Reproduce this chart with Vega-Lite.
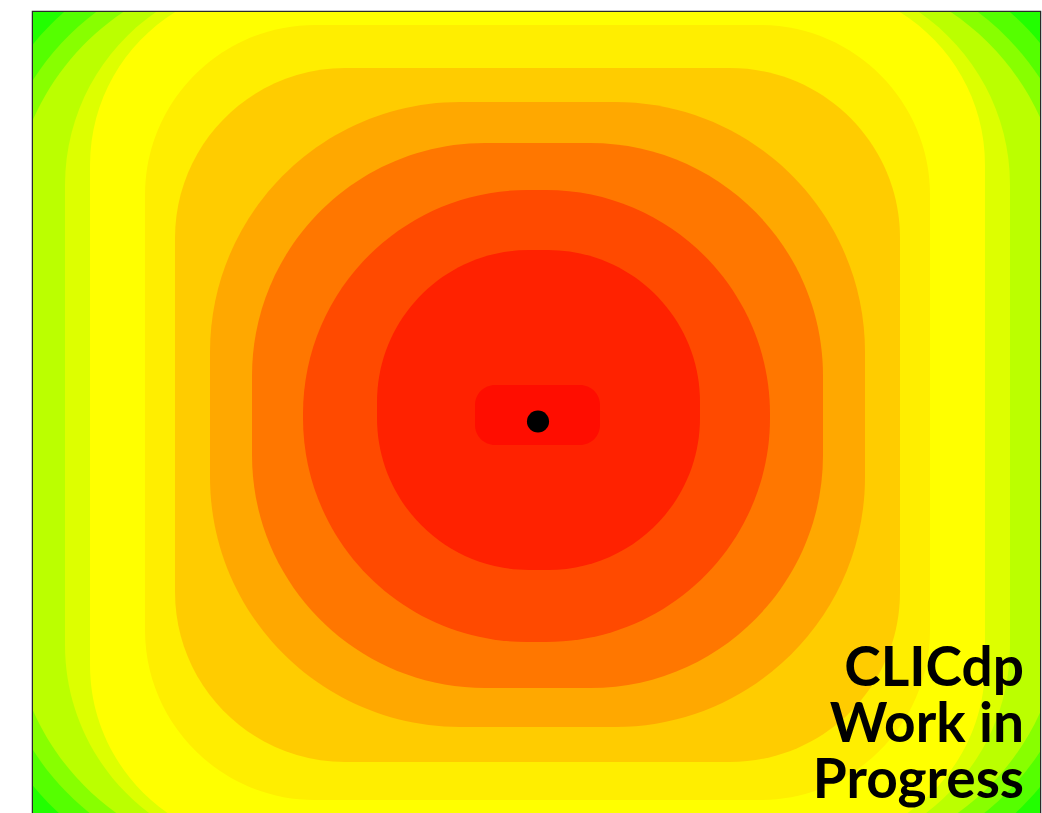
{
  "$schema": "https://vega.github.io/schema/vega-lite/v6.json",
  "autosize": {"type": "none"},
  "padding": {"left": 33, "top": 12, "right": 2, "bottom": 0},
  "width": 1007,
  "height": 806,
  "background": "white",
  "config": {"view": {"stroke": "#2a2a2a", "strokeWidth": 2.5}},
  "datasets": {
    "bands": [
      {"level": 0, "x1": -504, "x2": 503, "y1": -403, "y2": 403},
      {"level": 1, "x1": -565, "x2": 565, "y1": -470, "y2": 470},
      {"level": 2, "x1": -545, "x2": 545, "y1": -455, "y2": 455},
      {"level": 3, "x1": -525, "x2": 525, "y1": -445, "y2": 445},
      {"level": 4, "x1": -472, "x2": 473, "y1": -440, "y2": 440},
      {"level": 5, "x1": -447, "x2": 448, "y1": -430, "y2": 430},
      {"level": 6, "x1": -392, "x2": 393, "y1": -385, "y2": 390},
      {"level": 7, "x1": -362, "x2": 363, "y1": -347, "y2": 347},
      {"level": 8, "x1": -327, "x2": 328, "y1": -312, "y2": 313},
      {"level": 9, "x1": -285, "x2": 286, "y1": -273, "y2": 272},
      {"level": 10, "x1": -234, "x2": 233, "y1": -227, "y2": 225},
      {"level": 11, "x1": -160, "x2": 163, "y1": -155, "y2": 165},
      {"level": 12, "x1": -62, "x2": 63, "y1": -30, "y2": 30}
    ],
    "marker": [{"x": 1, "y": -6.5}]
  },
  "layer": [
    {
      "data": {"name": "bands"},
      "encoding": {
        "x": {"field": "x1", "type": "quantitative", "axis": null, "scale": {"domain": [-504, 503], "nice": false, "zero": false}},
        "x2": {"field": "x2"},
        "y": {"field": "y1", "type": "quantitative", "axis": null, "scale": {"domain": [-403, 403], "nice": false, "zero": false}},
        "y2": {"field": "y2"},
        "fill": {
          "field": "level", "type": "ordinal", "legend": null,
          "scale": {
            "domain": [0, 1, 2, 3, 4, 5, 6, 7, 8, 9, 10, 11, 12],
            "range": ["#22ff00", "#55ff00", "#88ff00", "#bbff00", "#ddff00", "#ffff00", "#ffee00", "#ffcc00", "#ffa800", "#ff7700", "#ff4a00", "#ff2200", "#ff0d00"]
          }
        }
      },
      "layer": [
        {"transform": [{"filter": "datum.level == 0"}], "mark": {"type": "rect", "clip": true}},
        {"transform": [{"filter": "datum.level == 1"}], "mark": {"type": "rect", "clip": true, "cornerRadius": 270}},
        {"transform": [{"filter": "datum.level == 2"}], "mark": {"type": "rect", "clip": true, "cornerRadius": 260}},
        {"transform": [{"filter": "datum.level == 3"}], "mark": {"type": "rect", "clip": true, "cornerRadius": 250}},
        {"transform": [{"filter": "datum.level == 4"}], "mark": {"type": "rect", "clip": true, "cornerRadius": 210}},
        {"transform": [{"filter": "datum.level == 5"}], "mark": {"type": "rect", "clip": true, "cornerRadius": 180}},
        {"transform": [{"filter": "datum.level == 6"}], "mark": {"type": "rect", "clip": true, "cornerRadius": 170}},
        {"transform": [{"filter": "datum.level == 7"}], "mark": {"type": "rect", "clip": true, "cornerRadius": 170}},
        {"transform": [{"filter": "datum.level == 8"}], "mark": {"type": "rect", "clip": true, "cornerRadius": 250}},
        {"transform": [{"filter": "datum.level == 9"}], "mark": {"type": "rect", "clip": true, "cornerRadius": 233}},
        {"transform": [{"filter": "datum.level == 10"}], "mark": {"type": "rect", "clip": true, "cornerRadius": 224}},
        {"transform": [{"filter": "datum.level == 11"}], "mark": {"type": "rect", "clip": true, "cornerRadius": 152}},
        {"transform": [{"filter": "datum.level == 12"}], "mark": {"type": "rect", "clip": true, "cornerRadius": 20}}
      ]
    },
    {
      "data": {"name": "marker"},
      "mark": {"type": "point", "filled": true, "color": "black", "opacity": 1, "size": 490},
      "encoding": {
        "x": {"field": "x", "type": "quantitative"},
        "y": {"field": "y", "type": "quantitative"}
      }
    },
    {
      "data": {"values": [{}]},
      "mark": {"type": "text", "text": ["CLICdp", "Work in", "Progress"], "font": "Lato", "fontWeight": "bold", "fontSize": 55, "lineHeight": 56, "align": "right", "baseline": "alphabetic", "color": "black"},
      "encoding": {
        "x": {"datum": 487, "type": "quantitative"},
        "y": {"datum": -271, "type": "quantitative"}
      }
    }
  ]
}
